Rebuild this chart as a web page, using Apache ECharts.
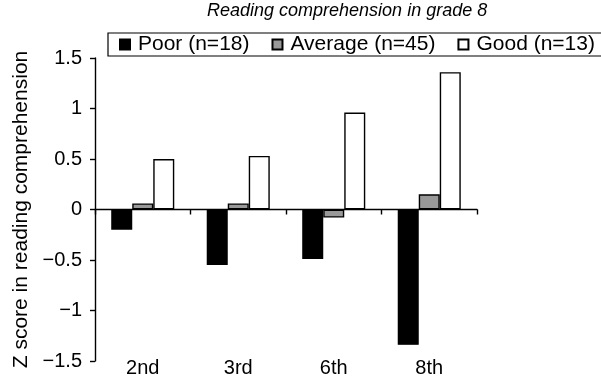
<!DOCTYPE html>
<html>
<head>
<meta charset="utf-8">
<script src="https://cdn.jsdelivr.net/npm/echarts@6/dist/echarts.min.js"></script>
<style>
html,body{margin:0;padding:0;background:#fff;}
#c{width:601px;height:379px;}
</style>
</head>
<body>
<div id="c"></div>
<script>
const categories = ['2nd', '3rd', '6th', '8th'];
const seriesNames = ['Poor (n=18)', 'Average (n=45)', 'Good (n=13)'];
const poor = [-0.2, -0.55, -0.49, -1.34];
const average = [0.06, 0.06, -0.08, 0.15];
const good = [0.5, 0.53, 0.96, 1.36];
const yTicks = { min: -1.5, max: 1.5, interval: 0.5 };
const titleText = 'Reading comprehension in grade 8';
const yName = 'Z score in reading comprehension';

const FONT = 'Liberation Sans, Arial, Helvetica, sans-serif';
const chart = echarts.init(document.getElementById('c'), null, { renderer: 'canvas' });

function bar(name, data, color) {
  return {
    name: name, type: 'bar', data: data, xAxisIndex: 0,
    barGap: '0%', barCategoryGap: '34%',
    itemStyle: { color: color, borderColor: '#000', borderWidth: 1.4 },
    emphasis: { disabled: true }
  };
}

chart.setOption({
  animation: false,
  backgroundColor: '#fff',
  textStyle: { fontFamily: FONT, color: '#000' },
  title: {
    text: titleText, left: 207, top: 2, padding: 0,
    textStyle: { fontFamily: FONT, fontStyle: 'italic', fontWeight: 'normal', fontSize: 18, color: '#000' }
  },
  legend: {
    data: seriesNames, left: 108, top: 33, width: 560, orient: 'horizontal',
    borderColor: '#000', borderWidth: 1.2, padding: [1, 16, 1, 11],
    itemWidth: 10, itemHeight: 10, itemGap: 22, icon: 'rect',
    textStyle: { fontFamily: FONT, fontSize: 21, color: '#000', padding: [0, 0, 0, 3] }
  },
  grid: { left: 95, right: 124, top: 58, bottom: 18, containLabel: false },
  xAxis: [
    {
      type: 'category', data: categories, position: 'bottom',
      axisLine: { onZero: true, lineStyle: { color: '#000', width: 1.4 } },
      axisTick: { show: true, length: 5, lineStyle: { color: '#000', width: 1.4 } },
      axisLabel: { show: false }, splitLine: { show: false }
    },
    {
      type: 'category', data: categories, position: 'bottom',
      axisLine: { show: false, onZero: false }, axisTick: { show: false },
      axisLabel: { show: true, margin: -3, fontFamily: FONT, fontSize: 20, color: '#000' },
      splitLine: { show: false }
    }
  ],
  yAxis: {
    type: 'value', min: yTicks.min, max: yTicks.max, interval: yTicks.interval,
    name: yName, nameLocation: 'middle', nameGap: 59,
    nameTextStyle: { fontFamily: FONT, fontSize: 21, color: '#000' },
    axisLine: { show: true, lineStyle: { color: '#000', width: 1.4 } },
    axisTick: { show: true, length: 5, lineStyle: { color: '#000', width: 1.4 } },
    axisLabel: {
      margin: 13, fontFamily: FONT, fontSize: 20, color: '#000',
      formatter: v => v < 0 ? '\u2212' + Math.abs(v) : String(v)
    },
    splitLine: { show: false }
  },
  series: [
    bar(seriesNames[0], poor, '#000'),
    bar(seriesNames[1], average, '#999'),
    bar(seriesNames[2], good, '#fff')
  ]
});
</script>
</body>
</html>
